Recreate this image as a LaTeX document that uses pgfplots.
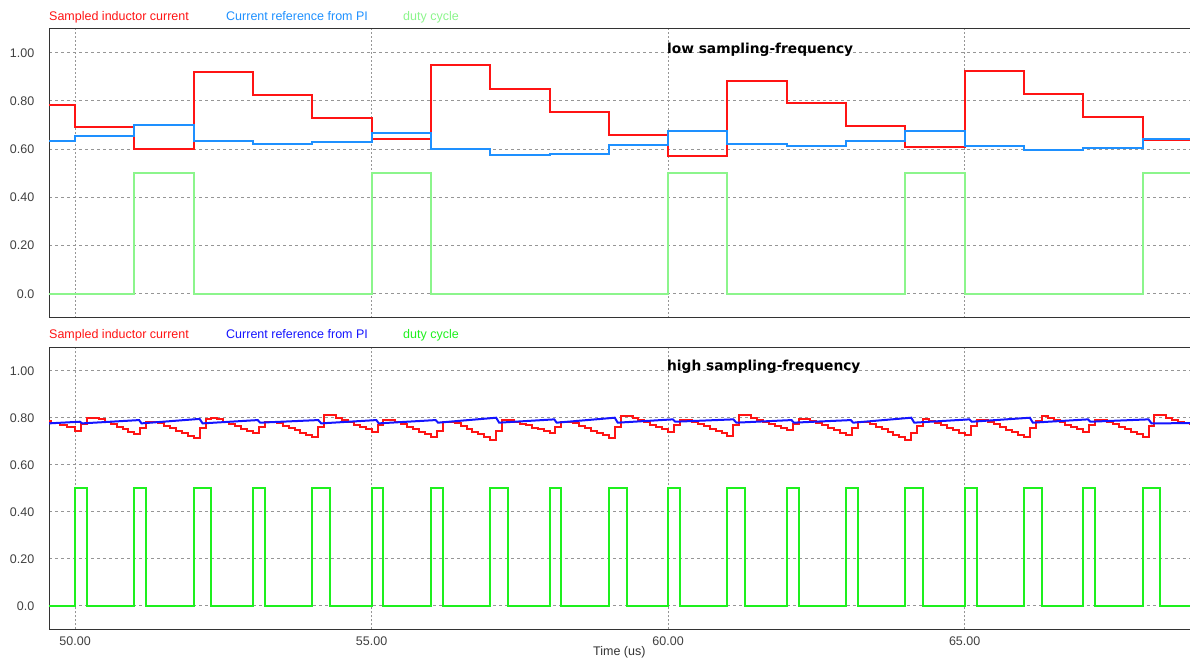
\documentclass[border=0pt]{standalone}
\usepackage{pgfplots}
\pgfplotsset{compat=1.18}
\usepackage{fontspec}
\setmainfont{Liberation Sans}
\newfontfamily\dejavu{DejaVu Sans}

\definecolor{sred}{RGB}{255,20,20}
\definecolor{tblue}{RGB}{30,144,255}
\definecolor{tgreen}{RGB}{140,245,140}
\definecolor{bblue}{RGB}{20,20,255}
\definecolor{bgreen}{RGB}{30,240,30}
\definecolor{gridc}{RGB}{150,150,150}
\newcommand\lab{\fontsize{12.5}{15}\selectfont}
\newcommand\ann{\dejavu\bfseries\fontsize{13.75}{16}\selectfont}

\pgfplotsset{
  scope panel/.style={
    scale only axis, width=1141pt,
    xmin=49.56, xmax=68.8, ymin=-0.1, ymax=1.1,
    axis line style={black!80, line width=1pt},
    major tick length=0pt,
    ytick={0,0.2,0.4,0.6,0.8,1}, yticklabels={0.0,0.20,0.40,0.60,0.80,1.00},
    xtick={50,55,60,65},
    grid=major,
    x grid style={gridc, dash pattern=on 2pt off 2pt, line width=0.8pt},
    y grid style={gridc, dash pattern=on 3pt off 3pt, line width=0.8pt},
    tick label style={font=\lab, text=black!75},
    yticklabel style={inner sep=0pt, xshift=-14.5pt},
    xticklabel style={inner sep=0pt, yshift=-7pt},
  },
  sig/.style={const plot, no marks, line width=2pt},
}

\begin{document}
\begin{tikzpicture}
\useasboundingbox (0,0) rectangle (1190pt,657pt);

% ---- low sampling frequency ----
\begin{axis}[scope panel, at={(49pt,339.2pt)}, anchor=south west, height=289.2pt,
    xticklabels={}]
\addplot[sig, sred] coordinates {
 (49.56,0.782) (50,0.690) (51,0.602) (52,0.920) (53,0.823) (54,0.729)
 (55,0.641) (56,0.949) (57,0.849) (58,0.753) (59,0.657) (60,0.571)
 (61,0.884) (62,0.793) (63,0.697) (64,0.610) (65,0.923) (66,0.827)
 (67,0.732) (68,0.638) (68.8,0.638)};
\addplot[sig, tblue] coordinates {
 (49.56,0.635) (50,0.654) (51,0.699) (52,0.635) (53,0.620) (54,0.629)
 (55,0.667) (56,0.599) (57,0.574) (58,0.580) (59,0.616) (60,0.675)
 (61,0.622) (62,0.614) (63,0.632) (64,0.675) (65,0.612) (66,0.595)
 (67,0.603) (68,0.641) (68.8,0.641)};
\addplot[sig, tgreen] coordinates {
 (49.56,0) (51,0.5) (52,0) (55,0.5) (56,0) (60,0.5) (61,0)
 (64,0.5) (65,0) (68,0.5) (68.8,0.5)};
\node[anchor=base west, inner sep=0pt, font=\ann] at (axis cs:59.98,0.995) {low sampling-frequency};
\end{axis}

% ---- high sampling frequency ----
\begin{axis}[scope panel, at={(49pt,27.7pt)}, anchor=south west, height=282.1pt,
    xticklabels={50.00,55.00,60.00,65.00}]
\addplot[sig, sred] coordinates {
 (49.56,0.786) (49.6,0.778) (49.75,0.769) (49.87,0.762)
 (50.0,0.745) (50.1,0.772) (50.2,0.800) (50.4,0.793) (50.5,0.783) (50.6,0.772) (50.7,0.762) (50.8,0.752) (50.9,0.741)
 (51.0,0.731) (51.1,0.757) (51.2,0.783) (51.4,0.776) (51.5,0.765) (51.6,0.755) (51.7,0.744) (51.8,0.733) (51.9,0.723)
 (52.0,0.712) (52.1,0.756) (52.2,0.793) (52.3,0.800) (52.4,0.793) (52.5,0.783) (52.6,0.773) (52.7,0.763) (52.8,0.754) (52.9,0.744)
 (53.0,0.734) (53.1,0.760) (53.2,0.783) (53.4,0.776) (53.5,0.766) (53.6,0.756) (53.7,0.746) (53.8,0.736) (53.9,0.726)
 (54.0,0.716) (54.1,0.760) (54.2,0.810) (54.4,0.800) (54.5,0.790) (54.6,0.780) (54.7,0.771) (54.8,0.761) (54.9,0.751)
 (55.0,0.741) (55.1,0.770) (55.2,0.790) (55.4,0.783) (55.5,0.772) (55.6,0.762) (55.7,0.751) (55.8,0.741) (55.9,0.730)
 (56.0,0.720) (56.1,0.745) (56.2,0.780) (56.4,0.776) (56.5,0.764) (56.6,0.752) (56.7,0.741) (56.8,0.729) (56.9,0.717)
 (57.0,0.705) (57.1,0.745) (57.2,0.790) (57.4,0.783) (57.5,0.775) (57.6,0.767) (57.7,0.758) (57.8,0.750) (57.9,0.742)
 (58.0,0.734) (58.1,0.762) (58.2,0.783) (58.4,0.776) (58.5,0.766) (58.6,0.756) (58.7,0.745) (58.8,0.735) (58.9,0.725)
 (59.0,0.715) (59.1,0.760) (59.2,0.807) (59.4,0.800) (59.5,0.790) (59.6,0.780) (59.7,0.771) (59.8,0.761) (59.9,0.751)
 (60.0,0.741) (60.1,0.770) (60.2,0.790) (60.4,0.783) (60.5,0.773) (60.6,0.763) (60.7,0.754) (60.8,0.744) (60.9,0.734)
 (61.0,0.724) (61.1,0.770) (61.2,0.810) (61.4,0.800) (61.5,0.791) (61.6,0.783) (61.7,0.774) (61.8,0.765) (61.9,0.757)
 (62.0,0.748) (62.1,0.775) (62.2,0.795) (62.4,0.788) (62.5,0.778) (62.6,0.767) (62.7,0.757) (62.8,0.747) (62.9,0.736)
 (63.0,0.726) (63.1,0.755) (63.2,0.780) (63.4,0.773) (63.5,0.762) (63.6,0.750) (63.7,0.739) (63.8,0.728) (63.9,0.716)
 (64.0,0.705) (64.1,0.735) (64.2,0.765) (64.3,0.795) (64.4,0.788) (64.5,0.778) (64.6,0.767) (64.7,0.757) (64.8,0.747) (64.9,0.736)
 (65.0,0.726) (65.1,0.765) (65.2,0.790) (65.4,0.783) (65.5,0.772) (65.6,0.761) (65.7,0.749) (65.8,0.738) (65.9,0.727)
 (66.0,0.716) (66.1,0.755) (66.2,0.785) (66.3,0.806) (66.4,0.800) (66.5,0.790) (66.6,0.780) (66.7,0.771) (66.8,0.761) (66.9,0.751)
 (67.0,0.741) (67.1,0.770) (67.2,0.790) (67.4,0.783) (67.5,0.772) (67.6,0.762) (67.7,0.751) (67.8,0.741) (67.9,0.730)
 (68.0,0.720) (68.1,0.765) (68.2,0.811) (68.4,0.800) (68.5,0.790) (68.6,0.783) (68.7,0.776) (68.8,0.770)};
\addplot[no marks, line width=2pt, bblue] coordinates {
 (49.56,0.776) (50.08,0.783) (50.12,0.776) (51.08,0.790) (51.12,0.776)
 (52.10,0.795) (52.15,0.776) (53.08,0.790) (53.12,0.779) (54.10,0.790)
 (54.15,0.776) (55.08,0.790) (55.12,0.776) (56.08,0.790) (56.12,0.779)
 (57.10,0.800) (57.15,0.779) (58.08,0.793) (58.12,0.779) (59.10,0.800)
 (59.15,0.779) (60.08,0.793) (60.12,0.783) (61.10,0.793) (61.15,0.779)
 (62.08,0.790) (62.12,0.779) (63.08,0.790) (63.12,0.779) (64.10,0.800)
 (64.15,0.779) (65.08,0.793) (65.12,0.783) (66.10,0.800) (66.15,0.779)
 (67.08,0.793) (67.12,0.783) (68.10,0.793) (68.15,0.776) (68.8,0.777)};
\addplot[sig, bgreen] coordinates {
 (49.56,0) (50,0.5) (50.2,0) (51,0.5) (51.2,0) (52,0.5) (52.3,0)
 (53,0.5) (53.2,0) (54,0.5) (54.3,0) (55,0.5) (55.2,0) (56,0.5) (56.2,0)
 (57,0.5) (57.3,0) (58,0.5) (58.2,0) (59,0.5) (59.3,0) (60,0.5) (60.2,0)
 (61,0.5) (61.3,0) (62,0.5) (62.2,0) (63,0.5) (63.2,0) (64,0.5) (64.3,0)
 (65,0.5) (65.2,0) (66,0.5) (66.3,0) (67,0.5) (67.2,0) (68,0.5) (68.3,0)
 (68.8,0)};
\node[anchor=base west, inner sep=0pt, font=\ann] at (axis cs:59.98,1.0) {high sampling-frequency};
\end{axis}

% ---- series labels above each panel ----
\foreach \yb/\cb/\cg in {636.4/tblue/tgreen, 318.7/bblue/bgreen} {
  \node[anchor=base west, inner sep=0pt, font=\lab, text=sred] at (49pt,\yb pt) {Sampled inductor current};
  \node[anchor=base west, inner sep=0pt, font=\lab, text=\cb] at (226pt,\yb pt) {Current reference from PI};
  \node[anchor=base west, inner sep=0pt, font=\lab, text=\cg] at (403pt,\yb pt) {duty cycle};
}
\node[anchor=base west, inner sep=0pt, font=\lab, text=black!80] at (593pt,2pt) {Time (us)};
\end{tikzpicture}
\end{document}
